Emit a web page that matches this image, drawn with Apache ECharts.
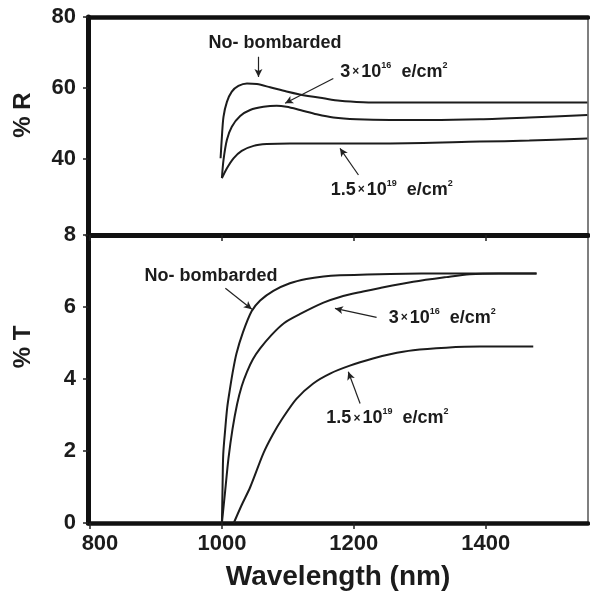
<!DOCTYPE html>
<html>
<head>
<meta charset="utf-8">
<script src="https://cdn.jsdelivr.net/npm/echarts@6/dist/echarts.min.js"></script>
<style>
html,body{margin:0;padding:0;background:#fff;}
#chart{width:590px;height:592px;}
</style>
</head>
<body>
<div id="chart"></div>
<script>
//刻度
var wlTicks = [800, 1000, 1200, 1400];
var rTicks = [40, 60, 80];
var tTicks = [0, 2, 4, 6, 8];

//反射率 %R
var rNoBomb = [[998,40.2],[1000,46.3],[1002.4,51.9],[1007.6,56.1],[1015,59.0],[1025,60.6],[1038,61.3],[1053,61.1],[1073,60.2],[1098,59.0],[1118,58.2],[1154,57.1],[1179,56.4],[1214,56.0],[1255,55.9],[1400,55.9],[1554,55.9]];
var r3e16 = [[1000,34.6],[1002.4,39.7],[1007.6,45.4],[1015,49.1],[1027.7,52.1],[1042.8,53.8],[1063,54.7],[1083,55.0],[1098,54.7],[1118.5,53.8],[1143.7,52.6],[1168.9,51.7],[1204,51.2],[1255,51.0],[1315,51.0],[1391,51.2],[1466,51.7],[1554,52.4]];
var r15e19 = [[1000,34.6],[1007.6,37.4],[1017.6,40.2],[1030,42.3],[1048,43.7],[1068,44.2],[1103,44.4],[1255,44.4],[1391,44.9],[1466,45.2],[1554,45.8]];

//透射率 %T
var tNoBomb = [[1000,0],[1001,1],[1002,1.9],[1005,2.6],[1008,3.2],[1012,3.7],[1016,4.15],[1022,4.7],[1032,5.3],[1045,5.88],[1058,6.18],[1078,6.45],[1103,6.66],[1128,6.78],[1154,6.85],[1179,6.88],[1255,6.92],[1350,6.93],[1477,6.93]];
var t3e16 = [[1000,0],[1005,0.9],[1010,1.8],[1016,2.6],[1023,3.3],[1030,3.8],[1038,4.2],[1047,4.55],[1058,4.85],[1075,5.22],[1094,5.55],[1118,5.8],[1154,6.12],[1179,6.28],[1214,6.43],[1240,6.53],[1290,6.7],[1340,6.83],[1376,6.91],[1420,6.93],[1477,6.93]];
var t15e19 = [[1018,0],[1030,0.5],[1043,1.0],[1063,1.94],[1077,2.45],[1091,2.88],[1113,3.45],[1138,3.87],[1164,4.15],[1194,4.37],[1229,4.57],[1255,4.69],[1290,4.8],[1340,4.87],[1391,4.9],[1472,4.9]];

var FONT = 'Liberation Sans, Arial, sans-serif';
var INK = '#1c1c1c';

var rich = {
	n:{fontFamily:FONT,fontWeight:'bold',fontSize:18,color:INK,lineHeight:22},
	x:{fontFamily:FONT,fontWeight:'bold',fontSize:12,color:INK,lineHeight:22,padding:[0,2,0,2]},
	s:{fontFamily:FONT,fontWeight:'bold',fontSize:9,color:INK,lineHeight:10,verticalAlign:'top'}
};
var txt3e16 = '{n|3}{x|×}{n|10}{s|16}{n|  e/cm}{s|2}';
var txt15e19 = '{n|1.5}{x|×}{n|10}{s|19}{n|  e/cm}{s|2}';

//标注文字
function note(x, y, text){
	return {coord:[x, y], label:{formatter:text}};
}
//箭头
function arrow(x1, y1, x2, y2){
	return [{coord:[x1, y1]}, {coord:[x2, y2]}];
}

function curve(name, data, xi, yi, notes, arrows){
	var s = {
		name:name, type:'line', data:data,
		xAxisIndex:xi, yAxisIndex:yi,
		smooth:0.3,
		showSymbol:false, symbol:'none',
		lineStyle:{color:INK, width:2},
		silent:true
	};
	if(notes){
		s.markPoint = {
			symbol:'circle', symbolSize:0, silent:true,
			label:{show:true, position:'inside', rich:rich, color:INK},
			data:notes
		};
	}
	if(arrows){
		s.markLine = {
			symbol:['none','arrow'], symbolSize:[6,8], silent:true,
			label:{show:false},
			lineStyle:{color:'#222', width:1.2, type:'solid'},
			data:arrows
		};
	}
	return s;
}

var axisX = {
	type:'value', min:797, max:1555,
	splitLine:{show:false},
	axisLine:{onZero:false, lineStyle:{color:'#111', width:5}}
};
function copy(o, extra){
	var r = JSON.parse(JSON.stringify(o));
	for(var k in extra){ r[k] = extra[k]; }
	return r;
}

var option = {
	animation:false,
	backgroundColor:'#fff',
	grid:[
		{left:88, right:2, top:17, height:218, show:true, borderColor:'#555', borderWidth:1.5},
		{left:88, right:2, top:235, height:288, show:true, borderColor:'#555', borderWidth:1.5}
	],
	xAxis:[
		copy(axisX, {gridIndex:0, position:'bottom',
			axisTick:{customValues:wlTicks, length:6, lineStyle:{color:'#222', width:1.5}},
			axisLabel:{show:false}}),
		copy(axisX, {gridIndex:0, position:'top',
			axisLine:{onZero:false, lineStyle:{color:'#111', width:4.5}},
			axisTick:{show:false}, axisLabel:{show:false}}),
		copy(axisX, {gridIndex:1, position:'bottom',
			axisLine:{onZero:false, lineStyle:{color:'#111', width:4.5}},
			axisTick:{customValues:wlTicks, length:6, lineStyle:{color:'#222', width:1.5}},
			axisLabel:{customValues:wlTicks, margin:10, color:INK,
				fontFamily:FONT, fontWeight:'bold', fontSize:22,
				formatter:function(v){ return v == 800 ? '{f|800}' : String(v); },
				rich:{f:{fontFamily:FONT, fontWeight:'bold', fontSize:22, color:INK, padding:[0,0,0,20]}}},
			name:'Wavelength (nm)', nameLocation:'middle', nameGap:40,
			nameTextStyle:{fontFamily:FONT, fontWeight:'bold', fontSize:28, color:INK}})
	],
	yAxis:[
		{gridIndex:0, type:'value', min:18.6, max:80,
			splitLine:{show:false},
			axisLine:{onZero:false, lineStyle:{color:'#111', width:5}},
			axisTick:{customValues:rTicks, length:5, lineStyle:{color:'#222', width:1.5}},
			axisLabel:{customValues:rTicks, margin:12, color:INK, fontFamily:FONT, fontWeight:'bold', fontSize:22},
			name:'% R', nameLocation:'middle', nameGap:53,
			nameTextStyle:{fontFamily:FONT, fontWeight:'bold', fontSize:24, color:INK, padding:[0,0,0,22]}},
		{gridIndex:1, type:'value', min:0, max:8, interval:2,
			splitLine:{show:false},
			axisLine:{onZero:false, lineStyle:{color:'#111', width:5}},
			axisTick:{length:5, lineStyle:{color:'#222', width:1.5}},
			axisLabel:{margin:12, color:INK, fontFamily:FONT, fontWeight:'bold', fontSize:22},
			name:'% T', nameLocation:'middle', nameGap:53,
			nameTextStyle:{fontFamily:FONT, fontWeight:'bold', fontSize:24, color:INK, padding:[0,0,0,64]}}
	],
	series:[
		curve('R no', rNoBomb, 0, 0,
			[note(1080.6, 72.7, '{n|No- bombarded}')],
			[arrow(1055.4, 68.8, 1055.4, 63.1)]),
		curve('R 3e16', r3e16, 0, 0,
			[note(1260.7, 64.5, txt3e16)],
			[arrow(1168.9, 62.7, 1095.8, 55.7)]),
		curve('R 1.5e19', r15e19, 0, 0,
			[note(1257.6, 31.3, txt15e19)],
			[arrow(1207, 35.5, 1179, 43.0)]),
		curve('T no', tNoBomb, 2, 1,
			[note(983.5, 6.87, '{n|No- bombarded}')],
			[arrow(1005.3, 6.52, 1045.4, 5.94)]),
		curve('T 3e16', t3e16, 2, 1,
			[note(1334, 5.69, txt3e16)],
			[arrow(1234.5, 5.71, 1171.4, 5.96)]),
		curve('T 1.5e19', t15e19, 2, 1,
			[note(1250.9, 2.91, txt15e19)],
			[arrow(1209.5, 3.32, 1191.6, 4.20)])
	]
};

var myChart = echarts.init(document.getElementById('chart'));
myChart.setOption(option);
</script>
</body>
</html>
